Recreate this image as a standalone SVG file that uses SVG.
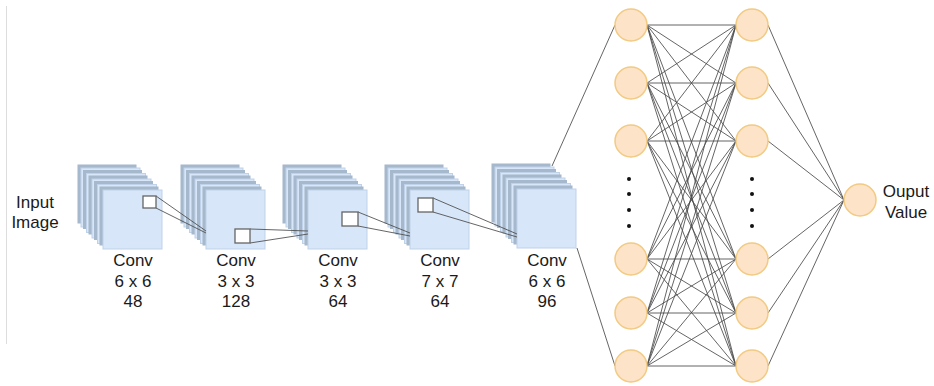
<svg xmlns="http://www.w3.org/2000/svg" xmlns:xlink="http://www.w3.org/1999/xlink" width="934" height="386" viewBox="0 0 934 386">
  <style>
    .lbl { font-family: "Liberation Sans", Arial, sans-serif; font-size: 17px; fill: #1a1a1a; text-anchor: middle; }
    .back { fill: #a6b8cb; }
    .sheet { fill: #d7e6f8; stroke: #bfd2ea; stroke-width: 1; }
    .kernel { fill: #ffffff; stroke: #666666; stroke-width: 1.3; }
    .wire { stroke: #4a4a4a; stroke-width: 1; fill: none; stroke-opacity: 0.85; }
    .neuron { fill: #fde3c7; stroke: #f2ca82; stroke-width: 1.5; }
    .dot { fill: #111111; }
  </style>
  <defs>
    <!-- one feature-map stack: four sheets behind a front sheet at (0,0) -->
    <g id="stack">
      <rect class="back" x="-25.5" y="-25.5" width="59" height="59"/>
      <rect class="sheet" x="-22" y="-22" width="59" height="59"/>
      <rect class="back" x="-20" y="-20" width="59" height="59"/>
      <rect class="sheet" x="-16.5" y="-16.5" width="59" height="59"/>
      <rect class="back" x="-14.5" y="-14.5" width="59" height="59"/>
      <rect class="sheet" x="-11" y="-11" width="59" height="59"/>
      <rect class="back" x="-9" y="-9" width="59" height="59"/>
      <rect class="sheet" x="-5.5" y="-5.5" width="59" height="59"/>
      <rect class="back" x="-3.5" y="-3.5" width="59" height="59"/>
      <rect class="sheet" x="0" y="0" width="59" height="59"/>
    </g>
  </defs>

  <rect width="934" height="386" fill="#ffffff"/>
  <line x1="6.5" y1="6" x2="6.5" y2="344" stroke="#dddddd" stroke-width="1"/>

  <g id="input-label">
    <text class="lbl" x="35" y="208">Input</text>
    <text class="lbl" x="35" y="228">Image</text>
  </g>

  <g id="conv1">
    <use xlink:href="#stack" x="103" y="190"/>
    <text class="lbl" x="133" y="266">Conv</text>
    <text class="lbl" x="133" y="287">6 x 6</text>
    <text class="lbl" x="133" y="307">48</text>
  </g>
  <g id="conv2">
    <use xlink:href="#stack" x="206" y="190"/>
    <text class="lbl" x="236" y="266">Conv</text>
    <text class="lbl" x="236" y="287">3 x 3</text>
    <text class="lbl" x="236" y="307">128</text>
  </g>
  <g id="conv3">
    <use xlink:href="#stack" x="308" y="190"/>
    <text class="lbl" x="338" y="266">Conv</text>
    <text class="lbl" x="338" y="287">3 x 3</text>
    <text class="lbl" x="338" y="307">64</text>
  </g>
  <g id="conv4">
    <use xlink:href="#stack" x="410" y="190"/>
    <text class="lbl" x="440" y="266">Conv</text>
    <text class="lbl" x="440" y="287">7 x 7</text>
    <text class="lbl" x="440" y="307">64</text>
  </g>
  <g id="conv5">
    <use xlink:href="#stack" x="517" y="189"/>
    <text class="lbl" x="547" y="266">Conv</text>
    <text class="lbl" x="547" y="287">6 x 6</text>
    <text class="lbl" x="547" y="307">96</text>
  </g>

  <g id="connectors">
    <!-- receptive-field projections between feature maps -->
    <line class="wire" x1="156" y1="196" x2="206" y2="231"/>
    <line class="wire" x1="156" y1="208" x2="206" y2="233"/>
    <line class="wire" x1="250" y1="229" x2="308" y2="231"/>
    <line class="wire" x1="250" y1="243" x2="308" y2="234"/>
    <line class="wire" x1="358" y1="212" x2="410" y2="233"/>
    <line class="wire" x1="358" y1="226" x2="410" y2="236"/>
    <line class="wire" x1="433" y1="198" x2="517" y2="234"/>
    <line class="wire" x1="433" y1="212" x2="517" y2="237"/>
    <!-- flatten into the dense layer -->
    <line class="wire" x1="552" y1="166" x2="615" y2="25"/>
    <line class="wire" x1="577" y1="248" x2="615" y2="366"/>
    <!-- dense layer 1 to dense layer 2 -->
    <g>
      <line class="wire" x1="647" y1="25" x2="736" y2="25"/>
      <line class="wire" x1="647" y1="25" x2="736" y2="83"/>
      <line class="wire" x1="647" y1="25" x2="736" y2="141"/>
      <line class="wire" x1="647" y1="25" x2="736" y2="259"/>
      <line class="wire" x1="647" y1="25" x2="736" y2="313"/>
      <line class="wire" x1="647" y1="25" x2="736" y2="366"/>
      <line class="wire" x1="647" y1="83" x2="736" y2="25"/>
      <line class="wire" x1="647" y1="83" x2="736" y2="83"/>
      <line class="wire" x1="647" y1="83" x2="736" y2="141"/>
      <line class="wire" x1="647" y1="83" x2="736" y2="259"/>
      <line class="wire" x1="647" y1="83" x2="736" y2="313"/>
      <line class="wire" x1="647" y1="83" x2="736" y2="366"/>
      <line class="wire" x1="647" y1="141" x2="736" y2="25"/>
      <line class="wire" x1="647" y1="141" x2="736" y2="83"/>
      <line class="wire" x1="647" y1="141" x2="736" y2="141"/>
      <line class="wire" x1="647" y1="141" x2="736" y2="259"/>
      <line class="wire" x1="647" y1="141" x2="736" y2="313"/>
      <line class="wire" x1="647" y1="141" x2="736" y2="366"/>
      <line class="wire" x1="647" y1="259" x2="736" y2="25"/>
      <line class="wire" x1="647" y1="259" x2="736" y2="83"/>
      <line class="wire" x1="647" y1="259" x2="736" y2="141"/>
      <line class="wire" x1="647" y1="259" x2="736" y2="259"/>
      <line class="wire" x1="647" y1="259" x2="736" y2="313"/>
      <line class="wire" x1="647" y1="259" x2="736" y2="366"/>
      <line class="wire" x1="647" y1="313" x2="736" y2="25"/>
      <line class="wire" x1="647" y1="313" x2="736" y2="83"/>
      <line class="wire" x1="647" y1="313" x2="736" y2="141"/>
      <line class="wire" x1="647" y1="313" x2="736" y2="259"/>
      <line class="wire" x1="647" y1="313" x2="736" y2="313"/>
      <line class="wire" x1="647" y1="313" x2="736" y2="366"/>
      <line class="wire" x1="647" y1="366" x2="736" y2="25"/>
      <line class="wire" x1="647" y1="366" x2="736" y2="83"/>
      <line class="wire" x1="647" y1="366" x2="736" y2="141"/>
      <line class="wire" x1="647" y1="366" x2="736" y2="259"/>
      <line class="wire" x1="647" y1="366" x2="736" y2="313"/>
      <line class="wire" x1="647" y1="366" x2="736" y2="366"/>
    </g>
    <!-- dense layer 2 to output -->
    <line class="wire" x1="768" y1="25" x2="844" y2="200"/>
    <line class="wire" x1="768" y1="83" x2="844" y2="200"/>
    <line class="wire" x1="768" y1="141" x2="844" y2="200"/>
    <line class="wire" x1="768" y1="259" x2="844" y2="200"/>
    <line class="wire" x1="768" y1="313" x2="844" y2="200"/>
    <line class="wire" x1="768" y1="366" x2="844" y2="200"/>
  </g>

  <g id="kernels">
    <rect class="kernel" x="143" y="196" width="13" height="12"/>
    <rect class="kernel" x="235" y="229" width="15" height="14"/>
    <rect class="kernel" x="342" y="212" width="16" height="14"/>
    <rect class="kernel" x="418" y="198" width="15" height="14"/>
  </g>

  <g id="dense1">
    <circle class="neuron" cx="631" cy="25" r="16"/>
    <circle class="neuron" cx="631" cy="83" r="16"/>
    <circle class="neuron" cx="631" cy="141" r="16"/>
    <circle class="dot" cx="629" cy="179" r="2"/>
    <circle class="dot" cx="629" cy="194" r="2"/>
    <circle class="dot" cx="629" cy="210" r="2"/>
    <circle class="dot" cx="629" cy="226" r="2"/>
    <circle class="neuron" cx="631" cy="259" r="16"/>
    <circle class="neuron" cx="631" cy="313" r="16"/>
    <circle class="neuron" cx="631" cy="366" r="16"/>
  </g>
  <g id="dense2">
    <circle class="neuron" cx="752" cy="25" r="16"/>
    <circle class="neuron" cx="752" cy="83" r="16"/>
    <circle class="neuron" cx="752" cy="141" r="16"/>
    <circle class="dot" cx="752" cy="179" r="2"/>
    <circle class="dot" cx="752" cy="194" r="2"/>
    <circle class="dot" cx="752" cy="210" r="2"/>
    <circle class="dot" cx="752" cy="226" r="2"/>
    <circle class="neuron" cx="752" cy="259" r="16"/>
    <circle class="neuron" cx="752" cy="313" r="16"/>
    <circle class="neuron" cx="752" cy="366" r="16"/>
  </g>
  <g id="output">
    <circle class="neuron" cx="860" cy="200" r="16"/>
    <text class="lbl" x="906" y="197">Ouput</text>
    <text class="lbl" x="906" y="218">Value</text>
  </g>
</svg>
